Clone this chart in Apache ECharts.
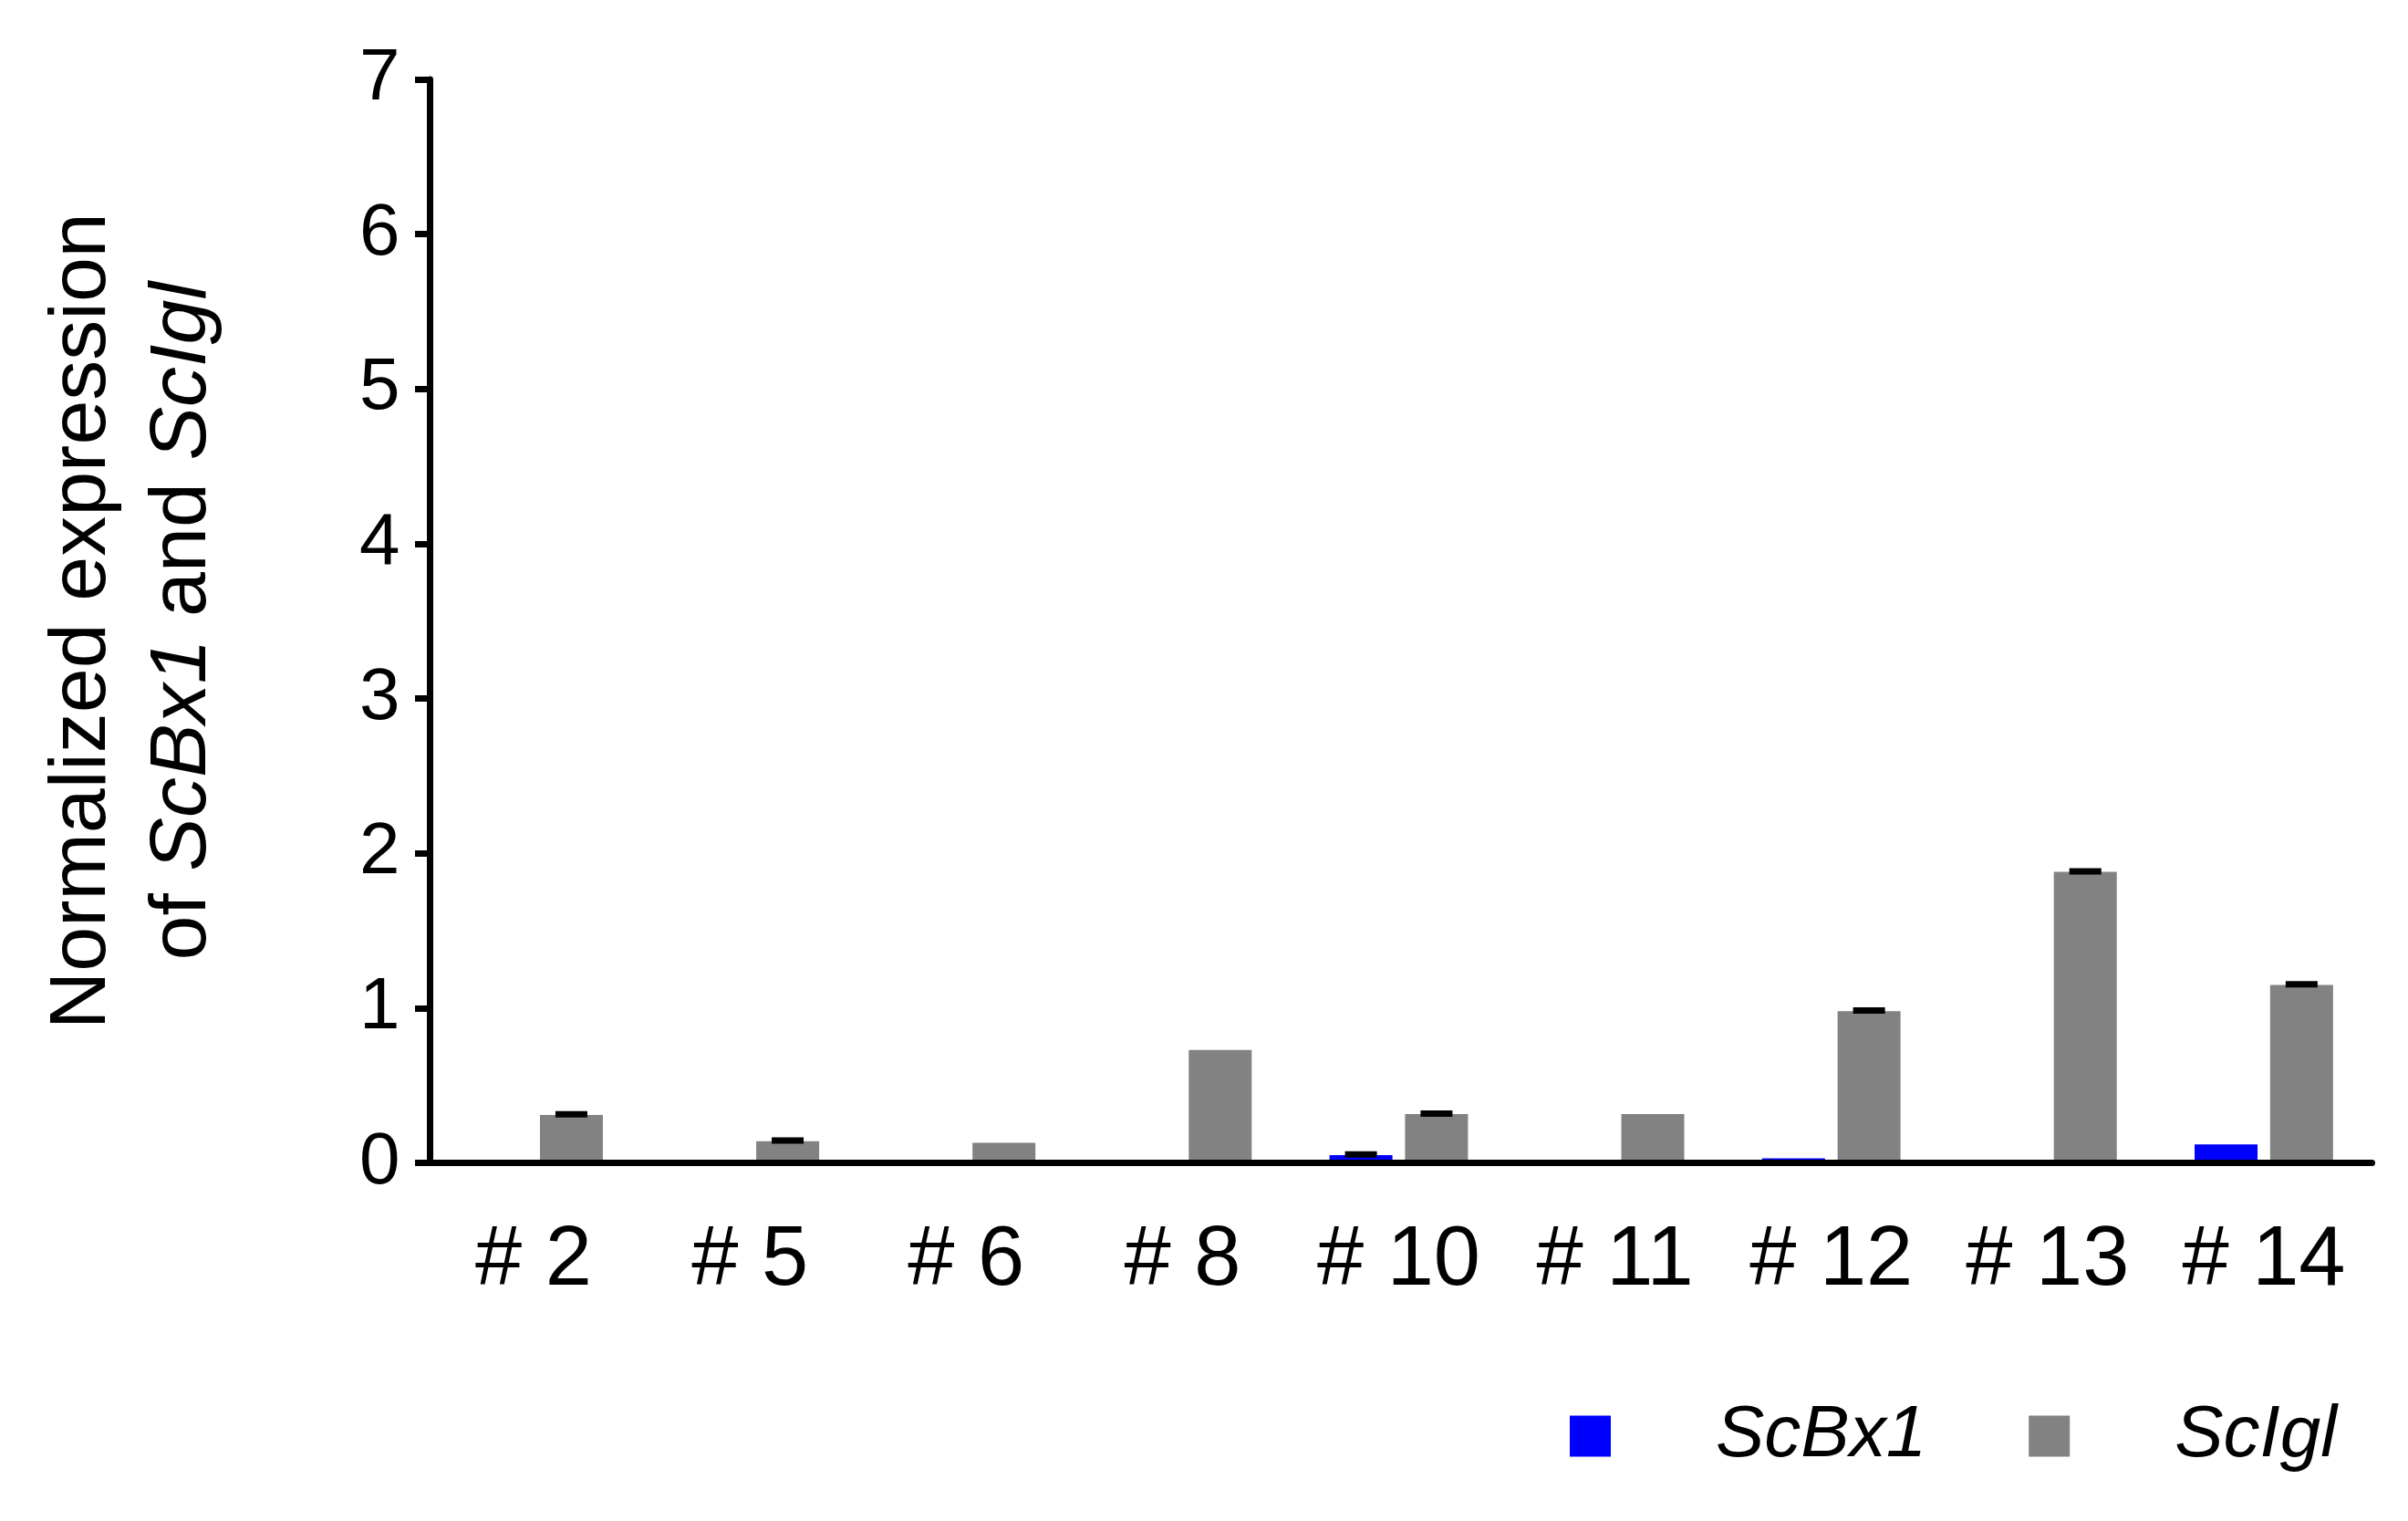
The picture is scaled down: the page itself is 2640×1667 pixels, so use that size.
<!DOCTYPE html>
<html>
<head>
<meta charset="utf-8">
<script src="https://cdn.jsdelivr.net/npm/echarts@6/dist/echarts.min.js"></script>
<style>
html,body{margin:0;padding:0;background:#fff;}
#chart{width:2640px;height:1667px;}
</style>
</head>
<body>
<div id="chart"></div>
<script>
// ---- data ----
const categories = ['# 2', '# 5', '# 6', '# 8', '# 10', '# 11', '# 12', '# 13', '# 14'];
const scBx1 = [0, 0, 0, 0, 0.05, 0, 0.03, 0, 0.12];
const scBx1Err = [null, null, null, null, 0.004, null, null, null, null];
const scIgl = [0.31, 0.14, 0.13, 0.73, 0.315, 0.315, 0.98, 1.88, 1.15];
const scIglErr = [0.004, 0.004, null, null, 0.004, null, 0.004, 0.004, 0.004];
const yTicks = [0, 1, 2, 3, 4, 5, 6, 7];

const FONT = '"Liberation Sans", Arial, Helvetica, sans-serif';
const BAR_W = 69;
const BAR_GAP = 0.2;
const OFFSET = (BAR_W + BAR_W * BAR_GAP) / 2;

function errSeries(vals, errs, side) {
  const data = [];
  vals.forEach((v, i) => { if (errs[i] != null) data.push([i, v, errs[i]]); });
  return {
    type: 'custom',
    z: 4,
    silent: true,
    data: data,
    renderItem: function (params, api) {
      const i = api.value(0), v = api.value(1), e = api.value(2);
      const top = api.coord([i, v + e]);
      const bot = api.coord([i, v - e]);
      const x = top[0] + side * OFFSET;
      return {
        type: 'group',
        children: [
          { type: 'line', shape: { x1: x, y1: bot[1], x2: x, y2: top[1] }, style: { stroke: '#000', lineWidth: 3 } },
          { type: 'line', shape: { x1: x - 17.5, y1: top[1], x2: x + 17.5, y2: top[1] }, style: { stroke: '#000', lineWidth: 7 } }
        ]
      };
    }
  };
}

const chart = echarts.init(document.getElementById('chart'), null, { renderer: 'canvas' });
chart.setOption({
  animation: false,
  backgroundColor: '#ffffff',
  textStyle: { fontFamily: FONT, color: '#000' },
  grid: { left: 466.5, right: 39.5, top: 87, bottom: 392.5, containLabel: false },
  legend: {
    left: 1716,
    top: 1529,
    itemWidth: 45,
    itemHeight: 45,
    itemGap: 112,
    icon: 'rect',
    data: ['ScBx1', 'ScIgl'],
    textStyle: { fontFamily: FONT, fontSize: 80, fontStyle: 'italic', color: '#000', padding: [0, 0, 0, 110] }
  },
  xAxis: {
    type: 'category',
    data: categories,
    z: 6,
    axisLine: { show: true, lineStyle: { color: '#000', width: 7 } },
    axisTick: { show: false },
    axisLabel: { fontFamily: FONT, fontSize: 92, color: '#000', margin: 62, interval: 0 },
    splitLine: { show: false }
  },
  yAxis: {
    type: 'value',
    min: yTicks[0],
    max: yTicks[yTicks.length - 1],
    interval: 1,
    offset: -5,
    z: 6,
    axisLine: { show: true, lineStyle: { color: '#000', width: 7 } },
    axisTick: { show: true, length: 16.5, lineStyle: { color: '#000', width: 7 } },
    axisLabel: { fontFamily: FONT, fontSize: 80, color: '#000', margin: 33 },
    splitLine: { show: false },
    name: '{a|Normalized expression}\n{a|of }{b|ScBx1}{a| and }{b|ScIgl}',
    nameLocation: 'middle',
    nameRotate: 90,
    nameGap: 216,
    nameTextStyle: {
      fontFamily: FONT, fontSize: 88, lineHeight: 110, color: '#000',
      rich: {
        a: { fontFamily: FONT, fontSize: 88, lineHeight: 110, color: '#000' },
        b: { fontFamily: FONT, fontSize: 88, lineHeight: 110, color: '#000', fontStyle: 'italic' }
      }
    }
  },
  series: [
    { name: 'ScBx1', type: 'bar', data: scBx1, barWidth: BAR_W, barGap: (BAR_GAP * 100) + '%', itemStyle: { color: '#0000ff' }, z: 2 },
    { name: 'ScIgl', type: 'bar', data: scIgl, barWidth: BAR_W, barGap: (BAR_GAP * 100) + '%', itemStyle: { color: '#828282' }, z: 2 },
    errSeries(scBx1, scBx1Err, -1),
    errSeries(scIgl, scIglErr, 1)
  ]
});
</script>
</body>
</html>
